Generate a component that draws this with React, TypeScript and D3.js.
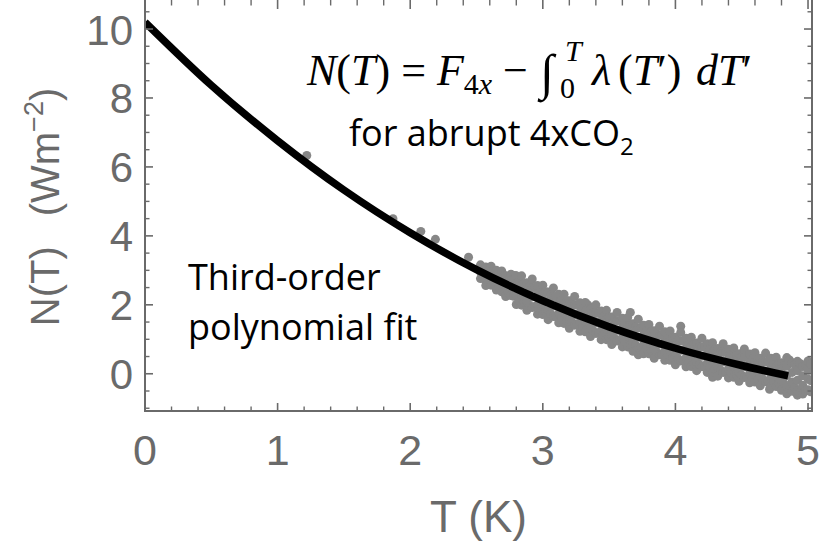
import React from "react";
import * as d3 from "d3";

// ---- data ----
const xTicks = [0, 1, 2, 3, 4, 5];
const yTicks = [0, 2, 4, 6, 8, 10];
const xLabel = "T (K)";
const yLabelMain = "N(T)";
const yLabelUnit = "(Wm";
const fitT = [0, 0.5, 1, 1.5, 2, 2.5, 3, 3.5, 4, 4.5, 4.85];
const fitN = [10.2, 8.37, 6.76, 5.33, 4.09, 3.02, 2.12, 1.36, 0.74, 0.24, -0.06];

// isolated early points
const sparsePoints: [number, number][] = [
  [1.22, 6.33], [1.87, 4.5], [2.08, 4.13], [2.19, 3.9], [2.44, 3.38],
  [2.79, 2.85], [3.34, 2.0], [3.66, 1.78], [4.04, 1.38], [3.72, 0.55], [4.28, -0.1], [4.71, -0.45],
];

// dense cloud (T, N)
const cloudPoints: [number, number][] = [
  [2.53, 3.16], [2.53, 2.95], [2.53, 2.76],
  [2.55, 3.05], [2.55, 2.8],
  [2.57, 3.1], [2.57, 2.9], [2.57, 2.7], [2.57, 2.56],
  [2.59, 2.99], [2.59, 2.66],
  [2.61, 3.12], [2.61, 2.96], [2.61, 2.79], [2.61, 2.57],
  [2.63, 3.0], [2.63, 2.6],
  [2.65, 3.0], [2.65, 2.82], [2.65, 2.61], [2.65, 2.43],
  [2.67, 2.88], [2.67, 2.5],
  [2.69, 2.98], [2.69, 2.78], [2.69, 2.58], [2.69, 2.38],
  [2.71, 2.85], [2.71, 2.44],
  [2.72, 2.84], [2.72, 2.63], [2.72, 2.42], [2.72, 2.24],
  [2.74, 2.74], [2.74, 2.35],
  [2.76, 2.89], [2.76, 2.71], [2.76, 2.51], [2.76, 2.27],
  [2.78, 2.72], [2.78, 2.25],
  [2.8, 2.84], [2.8, 2.56], [2.8, 2.28], [2.8, 2.01],
  [2.82, 2.7], [2.82, 2.12],
  [2.84, 2.84], [2.84, 2.57], [2.84, 2.29], [2.84, 1.99],
  [2.86, 2.62], [2.86, 2.08],
  [2.88, 2.64], [2.88, 2.37], [2.88, 2.1], [2.88, 1.84],
  [2.9, 2.55], [2.9, 1.98],
  [2.92, 2.75], [2.92, 2.5], [2.92, 2.23], [2.92, 1.92],
  [2.94, 2.5], [2.94, 1.95],
  [2.96, 2.56], [2.96, 2.28], [2.96, 2.0], [2.96, 1.73],
  [2.98, 2.4], [2.98, 1.86],
  [3.0, 2.57], [3.0, 2.3], [3.0, 2.02], [3.0, 1.72],
  [3.02, 2.38], [3.02, 1.8],
  [3.04, 2.37], [3.04, 2.1], [3.04, 1.83], [3.04, 1.57],
  [3.06, 2.28], [3.06, 1.74],
  [3.08, 2.49], [3.08, 2.24], [3.08, 1.97], [3.08, 1.66],
  [3.1, 2.24], [3.1, 1.66],
  [3.12, 2.31], [3.12, 2.03], [3.12, 1.75], [3.12, 1.48],
  [3.14, 2.15], [3.14, 1.62],
  [3.16, 2.31], [3.16, 2.04], [3.16, 1.76], [3.16, 1.46],
  [3.18, 2.12], [3.18, 1.54],
  [3.2, 2.12], [3.2, 1.85], [3.2, 1.58], [3.2, 1.32],
  [3.22, 2.02], [3.22, 1.5],
  [3.24, 2.24], [3.24, 1.99], [3.24, 1.72], [3.24, 1.41],
  [3.26, 2.0], [3.26, 1.42],
  [3.28, 2.06], [3.28, 1.78], [3.28, 1.5], [3.28, 1.23],
  [3.3, 1.9], [3.3, 1.37],
  [3.32, 2.07], [3.32, 1.8], [3.32, 1.52], [3.32, 1.22],
  [3.34, 1.88], [3.34, 1.3],
  [3.36, 1.88], [3.36, 1.61], [3.36, 1.34], [3.36, 1.08],
  [3.38, 1.78], [3.38, 1.25],
  [3.4, 2.0], [3.4, 1.75], [3.4, 1.48], [3.4, 1.17],
  [3.42, 1.76], [3.42, 1.18],
  [3.44, 1.82], [3.44, 1.54], [3.44, 1.26], [3.44, 0.99],
  [3.46, 1.66], [3.46, 1.14],
  [3.48, 1.84], [3.48, 1.57], [3.48, 1.29], [3.48, 0.99],
  [3.5, 1.65], [3.5, 1.06],
  [3.52, 1.65], [3.52, 1.38], [3.52, 1.11], [3.52, 0.85],
  [3.54, 1.55], [3.54, 1.03],
  [3.56, 1.78], [3.56, 1.53], [3.56, 1.26], [3.56, 0.95],
  [3.58, 1.54], [3.58, 0.97],
  [3.6, 1.61], [3.6, 1.33], [3.6, 1.05], [3.6, 0.78],
  [3.62, 1.45], [3.62, 0.93],
  [3.64, 1.63], [3.64, 1.36], [3.64, 1.08], [3.64, 0.78],
  [3.66, 1.44], [3.66, 0.86],
  [3.68, 1.45], [3.68, 1.18], [3.68, 0.91], [3.68, 0.65],
  [3.7, 1.35], [3.7, 0.83],
  [3.72, 1.58], [3.72, 1.33], [3.72, 1.06], [3.72, 0.75],
  [3.74, 1.34], [3.74, 0.76],
  [3.76, 1.41], [3.76, 1.13], [3.76, 0.85], [3.76, 0.58],
  [3.78, 1.25], [3.78, 0.73],
  [3.8, 1.43], [3.8, 1.16], [3.8, 0.88], [3.8, 0.58],
  [3.82, 1.24], [3.82, 0.66],
  [3.84, 1.25], [3.84, 0.98], [3.84, 0.71], [3.84, 0.45],
  [3.86, 1.15], [3.86, 0.63],
  [3.88, 1.38], [3.88, 1.13], [3.88, 0.86], [3.88, 0.55],
  [3.9, 1.14], [3.9, 0.56],
  [3.92, 1.22], [3.92, 0.94], [3.92, 0.66], [3.92, 0.39],
  [3.94, 1.06], [3.94, 0.54],
  [3.96, 1.24], [3.96, 0.97], [3.96, 0.69], [3.96, 0.39],
  [3.98, 1.05], [3.98, 0.47],
  [4.0, 1.06], [4.0, 0.79], [4.0, 0.52], [4.0, 0.26],
  [4.02, 0.96], [4.02, 0.44],
  [4.04, 1.2], [4.04, 0.95], [4.04, 0.68], [4.04, 0.37],
  [4.06, 0.96], [4.06, 0.38],
  [4.08, 1.03], [4.08, 0.75], [4.08, 0.47], [4.08, 0.2],
  [4.1, 0.87], [4.1, 0.35],
  [4.12, 1.06], [4.12, 0.79], [4.12, 0.51], [4.12, 0.21],
  [4.14, 0.87], [4.14, 0.29],
  [4.16, 0.89], [4.16, 0.62], [4.16, 0.35], [4.16, 0.09],
  [4.18, 0.79], [4.18, 0.27],
  [4.2, 1.03], [4.2, 0.78], [4.2, 0.51], [4.2, 0.2],
  [4.22, 0.79], [4.22, 0.21],
  [4.24, 0.87], [4.24, 0.59], [4.24, 0.31], [4.24, 0.04],
  [4.26, 0.71], [4.26, 0.19],
  [4.28, 0.9], [4.28, 0.63], [4.28, 0.35], [4.28, 0.05],
  [4.3, 0.71], [4.3, 0.13],
  [4.32, 0.73], [4.32, 0.46], [4.32, 0.19], [4.32, -0.07],
  [4.34, 0.63], [4.34, 0.11],
  [4.36, 0.87], [4.36, 0.62], [4.36, 0.35], [4.36, 0.04],
  [4.38, 0.63], [4.38, 0.05],
  [4.4, 0.71], [4.4, 0.43], [4.4, 0.15], [4.4, -0.12],
  [4.42, 0.56], [4.42, 0.04],
  [4.44, 0.75], [4.44, 0.48], [4.44, 0.2], [4.44, -0.1],
  [4.46, 0.56], [4.46, -0.02],
  [4.48, 0.58], [4.48, 0.31], [4.48, 0.04], [4.48, -0.22],
  [4.5, 0.48], [4.5, -0.04],
  [4.52, 0.72], [4.52, 0.47], [4.52, 0.2], [4.52, -0.11],
  [4.54, 0.49], [4.54, -0.09],
  [4.56, 0.57], [4.56, 0.29], [4.56, 0.01], [4.56, -0.26],
  [4.58, 0.42], [4.58, -0.1],
  [4.6, 0.61], [4.6, 0.34], [4.6, 0.06], [4.6, -0.24],
  [4.62, 0.43], [4.62, -0.15],
  [4.64, 0.45], [4.64, 0.18], [4.64, -0.09], [4.64, -0.35],
  [4.66, 0.36], [4.66, -0.16],
  [4.68, 0.6], [4.68, 0.35], [4.68, 0.08], [4.68, -0.23],
  [4.7, 0.37], [4.7, -0.21],
  [4.72, 0.45], [4.72, 0.17], [4.72, -0.11], [4.72, -0.38],
  [4.74, 0.29], [4.74, -0.23],
  [4.76, 0.48], [4.76, 0.21], [4.76, -0.07], [4.76, -0.37],
  [4.78, 0.3], [4.78, -0.28],
  [4.8, 0.32], [4.8, 0.05], [4.8, -0.22], [4.8, -0.48],
  [4.82, 0.23], [4.82, -0.29],
  [4.84, 0.47], [4.84, 0.22], [4.84, -0.05], [4.84, -0.36], [4.84, -0.58],
  [4.86, 0.4], [4.86, -0.45],
  [4.88, 0.32], [4.88, 0.04], [4.88, -0.24], [4.88, -0.51],
  [4.9, 0.26], [4.9, -0.4],
  [4.92, 0.36], [4.92, 0.09], [4.92, -0.19], [4.92, -0.49], [4.92, -0.62],
  [4.94, 0.3], [4.94, -0.55],
  [4.96, 0.21], [4.96, -0.06], [4.96, -0.33], [4.96, -0.59],
  [4.98, 0.25], [4.98, -0.5],
  [5.0, 0.37], [5.0, 0.12], [5.0, -0.15], [5.0, -0.46],
  [5.02, 0.28], [5.02, -0.2], [5.02, -0.52],
];

const W = 823;
const H = 545;
const AXIS = "#6a6a6a";
const LABEL = "#6a6a6a";
const SANS = "Liberation Sans, Arial, sans-serif";
const SERIF = "Liberation Serif, Times New Roman, serif";

export default function App() {
  const x = d3.scaleLinear().domain([0, 5.03]).range([145, 812]);
  const y = d3.scaleLinear().domain([-1.08, 10.9]).range([411, -2]);
  const [x0, x1] = x.range();
  const [yb, yt] = y.range();

  const xMinor = d3.range(0, 5.03, 0.2).filter((v) => Math.abs(v - Math.round(v)) > 1e-6);
  const yMinor = d3.range(-1, 10.9, 0.5).filter((v) => Math.abs(v / 2 - Math.round(v / 2)) > 1e-6);
  const maj = 8;
  const mnr = 4.5;

  const line = d3
    .line<number>()
    .x((_, i) => x(fitT[i]))
    .y((d) => y(d))
    .curve(d3.curveMonotoneX);

  const allPts = [...sparsePoints, ...cloudPoints];
  const fy = 85; // formula baseline

  return (
    <svg width={W} height={H} style={{ position: "absolute", left: 0, top: 0, background: "#fff" }}>
      <defs>
        <clipPath id="plot">
          <rect x={x0} y={yt} width={x1 - x0} height={yb - yt} />
        </clipPath>
      </defs>
      <rect x={0} y={0} width={W} height={H} fill="#fff" />
      {/* scatter + fit */}
      <g clipPath="url(#plot)">
        {allPts.map((p, i) => (
          <circle key={i} cx={x(p[0])} cy={y(p[1])} r={4.5} fill="#878787" />
        ))}
        <path d={line(fitN) || ""} fill="none" stroke="#000" strokeWidth={7.5} strokeLinecap="butt" />
      </g>
      {/* frame */}
      <rect x={x0} y={yt} width={x1 - x0} height={yb - yt} fill="none" stroke={AXIS} strokeWidth={2} />
      {/* x ticks bottom & top */}
      {xTicks.map((v) => (
        <g key={"xt" + v}>
          <line x1={x(v)} x2={x(v)} y1={yb} y2={yb - maj} stroke={AXIS} strokeWidth={1.6} />
          <line x1={x(v)} x2={x(v)} y1={yt} y2={yt + maj + 3} stroke={AXIS} strokeWidth={1.6} />
          <text x={x(v)} y={465} textAnchor="middle" fontFamily={SANS} fontSize={43} fill={LABEL}>
            {v}
          </text>
        </g>
      ))}
      {xMinor.map((v, i) => (
        <g key={"xm" + i}>
          <line x1={x(v)} x2={x(v)} y1={yb} y2={yb - mnr} stroke={AXIS} strokeWidth={1.4} />
          <line x1={x(v)} x2={x(v)} y1={yt} y2={yt + mnr + 3} stroke={AXIS} strokeWidth={1.4} />
        </g>
      ))}
      {/* y ticks left & right */}
      {yTicks.map((v) => (
        <g key={"yt" + v}>
          <line x1={x0} x2={x0 + maj} y1={y(v)} y2={y(v)} stroke={AXIS} strokeWidth={1.6} />
          <line x1={x1} x2={x1 - maj} y1={y(v)} y2={y(v)} stroke={AXIS} strokeWidth={1.6} />
          <text x={133} y={y(v) + 15.5} textAnchor="end" fontFamily={SANS} fontSize={42} fill={LABEL}>
            {v}
          </text>
        </g>
      ))}
      {yMinor.map((v, i) => (
        <g key={"ym" + i}>
          <line x1={x0} x2={x0 + mnr} y1={y(v)} y2={y(v)} stroke={AXIS} strokeWidth={1.4} />
          <line x1={x1} x2={x1 - mnr} y1={y(v)} y2={y(v)} stroke={AXIS} strokeWidth={1.4} />
        </g>
      ))}
      {/* axis titles */}
      <text x={(x0 + x1) / 2} y={532} textAnchor="middle" fontFamily={SANS} fontSize={44} fill={LABEL}>
        {xLabel}
      </text>
      <text
        transform={`translate(59,207) rotate(-90)`}
        textAnchor="middle"
        fontFamily={SANS}
        fontSize={40}
        fill={LABEL}
      >
        <tspan>{yLabelMain}</tspan>
        <tspan dx={30}>{yLabelUnit}</tspan>
        <tspan fontSize={27} dy={-16}>−2</tspan>
        <tspan dy={16}>)</tspan>
      </text>
      {/* formula */}
      <text x={307} y={fy} fontFamily={SERIF} fontSize={44} fill="#000" style={{ whiteSpace: "pre" }}>
        <tspan fontStyle="italic">N</tspan>
        <tspan>(</tspan>
        <tspan fontStyle="italic">T</tspan>
        <tspan>{") = "}</tspan>
        <tspan fontStyle="italic">F</tspan>
        <tspan fontSize={30} dy={9}>4</tspan>
        <tspan fontSize={30} fontStyle="italic">x</tspan>
      </text>
      <text x={503} y={fy} fontFamily={SERIF} fontSize={44} fill="#000">−</text>
      <text x={540} y={fy + 4} fontFamily={SERIF} fontSize={50} fontStyle="italic" fill="#000">∫</text>
      <text x={565} y={fy - 24} fontFamily={SERIF} fontSize={30} fontStyle="italic" fill="#000">T</text>
      <text x={560} y={fy + 13} fontFamily={SERIF} fontSize={30} fill="#000">0</text>
      <text x={592} y={fy} fontFamily={SERIF} fontSize={44} fontStyle="italic" fill="#000">λ</text>
      <text x={618} y={fy} fontFamily={SERIF} fontSize={44} fill="#000">
        <tspan>(</tspan>
        <tspan fontStyle="italic">T</tspan>
        <tspan>′)</tspan>
      </text>
      <text x={696} y={fy} fontFamily={SERIF} fontSize={44} fill="#000">
        <tspan fontStyle="italic">dT</tspan>
        <tspan>′</tspan>
      </text>
      <text x={349} y={146} fontFamily="Open Sans, sans-serif" fontSize={36} fill="#000">
        <tspan>for abrupt 4xCO</tspan>
        <tspan fontSize={24} dy={9}>2</tspan>
      </text>
      <text x={188} y={290} fontFamily="Open Sans, sans-serif" fontSize={36} fill="#000">
        Third-order
      </text>
      <text x={188} y={340} fontFamily="Open Sans, sans-serif" fontSize={36} fill="#000">
        polynomial fit
      </text>
    </svg>
  );
}
